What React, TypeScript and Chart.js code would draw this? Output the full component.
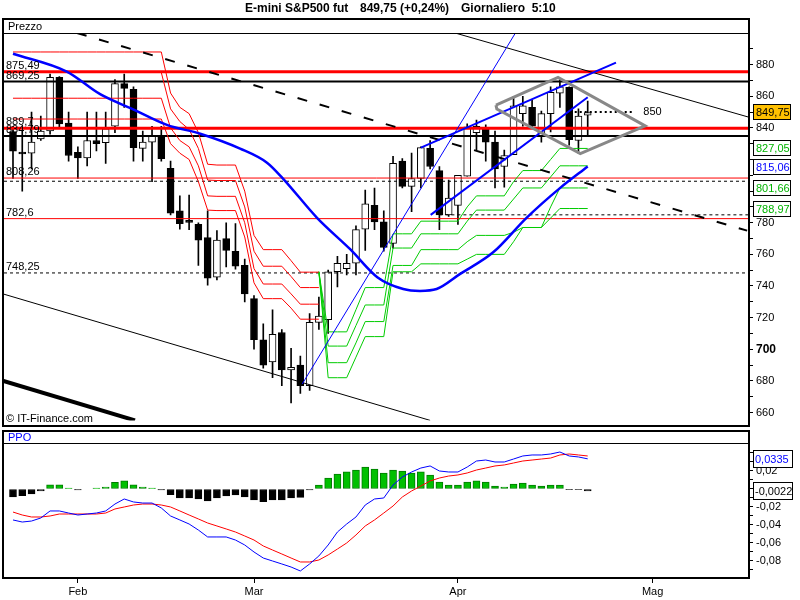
import React, { useEffect, useRef } from "react";
import { Chart, registerables } from "chart.js";

Chart.register(...registerables);

const FONT = '"Liberation Sans", Arial, sans-serif';

// ---------- candles (trading-day index 0 = 22 Jan) ----------
const opens = [837.7, 824.5, 824, 833, 838, 872, 843, 824.5, 821, 832, 830.6, 841, 868, 864.4, 827, 831, 835, 814.4, 787.5, 781, 779, 770.6, 745.6, 770, 761.9, 753, 732, 706, 692, 710.6, 687, 690, 677, 717, 718.75, 749, 751, 754.4, 776, 791, 780.6, 767, 819, 803, 808, 827, 813, 785, 791, 809.4, 837, 839, 831, 815.6, 823, 849, 853, 835, 849, 862, 865.6, 832, 848];
const highs = [841, 838, 850, 847.5, 874, 872.5, 850, 828, 850, 850, 850, 870.6, 874, 866, 838, 841, 841, 819, 797, 797.5, 780, 787.5, 775, 780, 779.4, 757, 734, 716, 725, 712.5, 700.6, 695.6, 722.5, 733, 750, 758.75, 760, 778, 800.6, 802, 787.5, 822, 820.6, 824, 828, 832, 815.6, 807, 810, 842.5, 845, 842, 838, 826, 860, 860, 857.5, 850.6, 866, 870.6, 866, 852, 857];
const lows = [808, 800, 814, 832, 836, 840.5, 819, 808, 816, 825.5, 817.5, 837, 853, 819, 819, 806, 819, 785, 776, 775.6, 753, 740.6, 743.8, 752, 750.6, 730, 700, 688, 682, 677, 666, 672, 674, 712.5, 710, 739.4, 747, 747, 762.5, 775.6, 762, 764, 802, 787, 802, 814, 775.6, 784, 779, 809.4, 826, 819, 802, 802.5, 823, 841, 840, 831, 837.5, 853, 829, 824, 835];
const closes = [825.2, 823.5, 831, 838, 872, 842.5, 822.5, 821, 832, 830, 839.4, 868, 865, 827.5, 831, 835, 820.6, 786, 779.4, 780.2, 769, 745, 769, 762.5, 752.5, 735, 706, 690, 709.4, 687, 688.5, 677, 717, 721, 749, 754.4, 754.4, 775.6, 792, 780.6, 764.4, 817.5, 803, 808, 827.5, 815.6, 785, 795.6, 810, 840.6, 841, 831, 814, 822.5, 854, 854, 841, 849, 862.5, 866, 832.5, 847.5, 849.75];

// ---------- PPO panel ----------
const ppoLine = [-0.0344, -0.0367, -0.0356, -0.0322, -0.0244, -0.0244, -0.0267, -0.0289, -0.0278, -0.0267, -0.0244, -0.0167, -0.0111, -0.0144, -0.0156, -0.0156, -0.0211, -0.03, -0.0344, -0.0389, -0.0456, -0.0533, -0.0533, -0.0533, -0.0567, -0.0622, -0.07, -0.0767, -0.08, -0.0833, -0.0867, -0.0911, -0.0833, -0.0744, -0.0622, -0.0478, -0.0389, -0.0311, -0.0178, -0.0111, -0.01, 0.0044, 0.0133, 0.0189, 0.0233, 0.0256, 0.02, 0.0189, 0.0189, 0.0244, 0.0311, 0.0322, 0.03, 0.03, 0.0333, 0.0367, 0.0378, 0.0378, 0.0389, 0.0411, 0.0367, 0.0356, 0.0335];
const signalLine = [-0.0256, -0.0289, -0.0311, -0.0311, -0.03, -0.0278, -0.0278, -0.0278, -0.0278, -0.0278, -0.0267, -0.0222, -0.02, -0.0178, -0.0167, -0.0167, -0.0178, -0.02, -0.0244, -0.0289, -0.0333, -0.0378, -0.0411, -0.0444, -0.0478, -0.0522, -0.0567, -0.0633, -0.0678, -0.0722, -0.0767, -0.0811, -0.0811, -0.0789, -0.0733, -0.0667, -0.06, -0.0511, -0.0411, -0.0344, -0.0267, -0.0189, -0.0089, -0.0022, 0.0033, 0.0089, 0.0122, 0.0144, 0.0156, 0.0178, 0.0211, 0.0233, 0.0256, 0.0267, 0.0289, 0.0311, 0.0322, 0.0333, 0.0344, 0.0378, 0.0389, 0.0378, 0.0367];
const histogram = [-0.0087, -0.0074, -0.0056, -0.002, 0.0045, 0.0045, 0.001, -0.001, 0, 0.001, 0.002, 0.0074, 0.009, 0.0045, 0.0022, 0.001, -0.001, -0.0063, -0.01, -0.01, -0.011, -0.0133, -0.01, -0.0078, -0.0067, -0.0089, -0.0122, -0.014, -0.0122, -0.0122, -0.01, -0.0093, -0.001, 0.0044, 0.0122, 0.0167, 0.019, 0.021, 0.0244, 0.0222, 0.0178, 0.021, 0.02, 0.0178, 0.019, 0.0156, 0.0078, 0.0044, 0.0044, 0.0078, 0.009, 0.0078, 0.0033, 0.0022, 0.0056, 0.0067, 0.0044, 0.0033, 0.0044, 0.0044, -0.0008, -0.0008, -0.0022];

// ---------- red trailing stops (index 0..33) ----------
const redStop1 = [888, 888, 888, 888, 888, 888, 888, 888, 888, 888, 888, 888, 888, 888, 888, 888, 888, 862, 853, 849, 837, 817, 816.5, 816.5, 816.5, 800, 772, 763, 763, 763, 756, 748.75, 748.75, 748.75];
const redStop2 = [875, 875, 875, 875, 875, 875, 875, 875, 875, 875, 875, 875, 875, 875, 875, 875, 875, 852, 844, 839, 827, 807, 806.7, 806.7, 806.7, 790, 762, 752.5, 752.5, 752.5, 746, 739, 739, 739];
const redStop3 = [858.75, 858.75, 858.75, 858.75, 858.75, 858.75, 858.75, 858.75, 858.75, 858.75, 858.75, 858.75, 858.75, 858.75, 858.75, 858.75, 858.75, 840, 832, 828, 816, 797, 796.7, 796.7, 796.7, 780, 751, 741.25, 741.25, 741.25, 735, 728.5, 728.5, 728.5];
const redStop4 = [845.6, 845.6, 845.6, 845.6, 845.6, 845.6, 845.6, 845.6, 845.6, 845.6, 845.6, 845.6, 845.6, 845.6, 845.6, 845.6, 845.6, 830, 824, 820, 806, 788, 787.7, 787.7, 787.7, 771, 742, 732, 732, 732, 726, 719, 719, 719];

// ---------- green trailing stops (index 33..62) ----------
const GREEN_START = 33;
const greenStop1 = [749, 711, 711, 711, 725, 739, 739, 739, 773, 773, 773, 781, 781, 781, 781, 781, 790, 797, 797, 797, 797, 806, 813, 813, 813, 820, 827, 827, 827, 827];
const greenStop2 = [749, 702, 702, 702, 715, 728, 728, 728, 764, 764, 764, 773, 773, 773, 773, 773, 781, 788, 788, 788, 788, 795, 802, 802, 802, 809, 816, 816, 816, 816];
const greenStop3 = [749, 691.5, 691.5, 691.5, 704, 717.5, 717.5, 717.5, 753, 753, 753, 763, 763, 763, 763, 763, 768, 772, 772, 772, 772, 774, 777, 777, 777, 790, 802, 802, 802, 802];
const greenStop4 = [749, 682, 682, 682, 695, 708, 708, 708, 749, 749, 749, 754, 754, 754, 754, 754, 757, 760, 760, 760, 760, 768, 777, 777, 777, 783, 789, 789, 789, 789];

// ---------- regression curve ----------
const curveIdx = [0, 5.8, 9.4, 12.9, 16.6, 20.2, 24.5, 27.4, 29.1, 32.8, 36.4, 39.3, 42.1, 43.9, 45.7, 48.2, 51.8, 55.4, 59.0, 62.0];
const curveVal = [886.9, 875.6, 861.3, 851.9, 841.9, 836.3, 826.9, 818, 808.1, 783.1, 763.1, 745.6, 738.1, 736.9, 738.1, 747.5, 761.3, 783.1, 801.9, 815.6];

// ---------- trend lines [index, price] ----------
const thinBlueTrend = [[31.2, 678], [54.2, 900]];
const upperChannel = [[44.0, 827.5], [65.05, 881.25]];
const lowerChannel = [[45.06, 785], [62.0, 859.4]];
const topRightBlack = [[47.7, 900], [79.3, 846.9]];
const lowerBlack = [[-1.08, 735], [45, 655]];
const thickBlack = [[-1.08, 680], [13.16, 655]];
const dashedTrend = [[6.9, 900], [79.2, 775]];
const diamondIdx = [52.1, 58.8, 68.2, 61.2, 52.2, 52.1];
const diamondVal = [854.4, 871.9, 841.25, 823.75, 851.9, 854.4];
const target850 = [[60.6, 850], [66.8, 850]];

// ---------- horizontal levels ----------
const thickRedLevels = [875.49, 839.7];
const thickBlackLevels = [869.25, 834.79];
const thinRedLevels = [808.26, 782.6];
const dashedLevels = [806.25, 748.25];
const partialDashed = [[46, 785], [79.4, 785]];
const levelLabelValues = [875.49, 869.25, 839.7, 834.79, 808.26, 782.6, 748.25];
const levelLabelTexts = ["875,49", "869,25", "889,7", "834,79", "808,26", "782,6", "748,25"];

// ---------- boxes and ticks ----------
const priceBoxValues = [849.75, 827.05, 815.06, 801.66, 788.97];
const priceBoxTexts = ["849,75", "827,05", "815,06", "801,66", "788,97"];
const priceBoxColors = ["#000000", "#00B400", "#0000FF", "#00B400", "#00B400"];
const priceBoxFills = ["#FFC000", "#FFFFFF", "#FFFFFF", "#FFFFFF", "#FFFFFF"];
const ppoBoxValues = [0.0335, -0.0022];
const ppoBoxTexts = ["0,0335", "-0,0022"];
const ppoBoxColors = ["#0000FF", "#000000"];
const priceTickValues = [660, 670, 680, 690, 700, 710, 720, 730, 740, 750, 760, 770, 780, 790, 800, 810, 820, 830, 840, 850, 860, 870, 880, 890];
const priceLabelValues = [660, 680, 700, 720, 740, 760, 780, 840, 860, 880];
const ppoTickValues = [-0.09, -0.08, -0.07, -0.06, -0.05, -0.04, -0.03, -0.02, -0.01, 0, 0.01, 0.02, 0.03, 0.04];
const monthIndex = [7, 26, 48, 69];
const monthLabels = ["Feb", "Mar", "Apr", "Mag"];

const X_MIN = -0.97;
const X_MAX = 79.4;

const pts = (p: number[][]) => p.map((q) => ({ x: q[0], y: q[1] }));

function lineDs(data: any[], color: string, width: number, order: number, dash: number[] = [], extra: any = {}) {
  return {
    type: "line",
    data,
    borderColor: color,
    backgroundColor: color,
    borderWidth: width,
    borderDash: dash,
    pointRadius: 0,
    tension: 0,
    fill: false,
    clip: 0,
    order,
    ...extra,
  };
}

function hLine(v: number, color: string, width: number, order: number, dash: number[] = []) {
  return lineDs(pts([[X_MIN, v], [X_MAX, v]]), color, width, order, dash);
}

const pricePlugin = {
  id: "priceDecor",
  afterDraw(chart: any) {
    const { ctx } = chart;
    const ys = chart.scales.y;
    const xs = chart.scales.x;
    ctx.save();
    ctx.fillStyle = "#000";
    ctx.textAlign = "left";
    ctx.textBaseline = "middle";
    ctx.font = `bold 12px ${FONT}`;
    ctx.fillText("E-mini S&P500 fut", 245, 9);
    ctx.fillText("849,75 (+0,24%)", 360, 9);
    ctx.fillText("Giornaliero  5:10", 461, 9);

    ctx.strokeStyle = "#000";
    ctx.lineWidth = 2;
    ctx.strokeRect(3, 19, 746, 407);
    ctx.lineWidth = 1;
    ctx.beginPath();
    ctx.moveTo(3, 33.5);
    ctx.lineTo(749, 33.5);
    ctx.stroke();

    ctx.font = `11px ${FONT}`;
    ctx.fillText("Prezzo", 8, 26.5);

    ctx.textBaseline = "alphabetic";
    levelLabelValues.forEach((v, i) => {
      ctx.fillText(levelLabelTexts[i], 6, ys.getPixelForValue(v) - 3);
    });
    ctx.textBaseline = "middle";
    ctx.fillText("850", xs.getPixelForValue(68.0), ys.getPixelForValue(850));
    ctx.fillText("\u00A9 IT-Finance.com", 6, 419);

    priceBoxValues.forEach((v, i) => {
      const py = Math.round(ys.getPixelForValue(v));
      ctx.fillStyle = priceBoxFills[i];
      ctx.fillRect(753.5, py - 7.5, 37, 15);
      ctx.strokeStyle = "#000";
      ctx.lineWidth = 1;
      ctx.strokeRect(753.5, py - 7.5, 37, 15);
      ctx.fillStyle = priceBoxColors[i];
      ctx.fillText(priceBoxTexts[i], 756, py + 0.5);
    });
    ctx.restore();
  },
};

const ppoPlugin = {
  id: "ppoDecor",
  afterDraw(chart: any) {
    const { ctx } = chart;
    const ys = chart.scales.y;
    ctx.save();
    ctx.strokeStyle = "#000";
    ctx.lineWidth = 2;
    ctx.strokeRect(3, 1, 746, 147);
    ctx.lineWidth = 1;
    ctx.beginPath();
    ctx.moveTo(3, 13.5);
    ctx.lineTo(749, 13.5);
    ctx.stroke();
    ctx.font = `11px ${FONT}`;
    ctx.textBaseline = "middle";
    ctx.textAlign = "left";
    ctx.fillStyle = "#0000FF";
    ctx.fillText("PPO", 8, 7.5);
    ppoBoxValues.forEach((v, i) => {
      const py = Math.round(ys.getPixelForValue(v));
      ctx.fillStyle = "#fff";
      ctx.fillRect(753.5, py - 8.5, 39, 17);
      ctx.strokeStyle = "#000";
      ctx.strokeRect(753.5, py - 8.5, 39, 17);
      ctx.fillStyle = ppoBoxColors[i];
      ctx.fillText(ppoBoxTexts[i], 755, py + 0.5);
    });
    ctx.restore();
  },
};

function buildPriceConfig(): any {
  const idx = opens.map((_, i) => i);
  const datasets: any[] = [
    {
      type: "bar",
      data: idx.map((i) => ({ x: i, y: [lows[i], highs[i]] })),
      backgroundColor: "#000",
      borderWidth: 0,
      barThickness: 1,
      maxBarThickness: 1,
      grouped: false,
      order: 8,
    },
    {
      type: "bar",
      data: idx.map((i) => ({ x: i, y: [opens[i], closes[i]] })),
      backgroundColor: idx.map((i) => (closes[i] >= opens[i] ? "#FFFFFF" : "#000000")),
      borderColor: "#000",
      borderWidth: 1,
      borderSkipped: false,
      barThickness: 7,
      maxBarThickness: 7,
      minBarLength: 2,
      grouped: false,
      order: 7,
    },
    ...thickRedLevels.map((v) => hLine(v, "#FF0000", 3, 5)),
    ...thickBlackLevels.map((v) => hLine(v, "#000000", 2, 5)),
    ...thinRedLevels.map((v) => hLine(v, "#FF0000", 1, 5)),
    ...dashedLevels.map((v) => hLine(v, "#000000", 1, 5, [3, 3])),
    lineDs(pts(partialDashed), "#000000", 1, 5, [3, 3]),
    ...[redStop1, redStop2, redStop3, redStop4].map((arr) =>
      lineDs(arr.map((v, i) => ({ x: i, y: v })), "#FF0000", 1, 4)
    ),
    ...[greenStop1, greenStop2, greenStop3, greenStop4].map((arr) =>
      lineDs(arr.map((v, j) => ({ x: GREEN_START + j, y: v })), "#00CC00", 1, 4)
    ),
    lineDs(pts(topRightBlack), "#000000", 1, 3),
    lineDs(pts(lowerBlack), "#000000", 1, 3),
    lineDs(pts(thickBlack), "#000000", 4, 3),
    lineDs(pts(dashedTrend), "#000000", 2, 3, [10, 13]),
    lineDs(pts(thinBlueTrend), "#0000FF", 1, 2),
    lineDs(pts(upperChannel), "#0000FF", 2, 2),
    lineDs(pts(lowerChannel), "#0000FF", 2, 2),
    lineDs(curveIdx.map((x, i) => ({ x, y: curveVal[i] })), "#0000FF", 2.5, 1, [], {
      cubicInterpolationMode: "monotone",
    }),
    lineDs(diamondIdx.map((x, i) => ({ x, y: diamondVal[i] })), "#888888", 3, 0),
    lineDs(pts(target850), "#000000", 2, 0, [2, 3]),
  ];
  return {
    type: "bar",
    data: { datasets },
    options: {
      responsive: false,
      animation: false,
      events: [],
      layout: { padding: { left: 4, top: 33, right: 0, bottom: 5 } },
      plugins: { legend: { display: false }, tooltip: { enabled: false }, title: { display: false } },
      scales: {
        x: { type: "linear", min: X_MIN, max: X_MAX, offset: false, grid: { offset: false }, display: false },
        y: {
          type: "linear",
          position: "right",
          min: 655,
          max: 900,
          afterFit: (s: any) => {
            s.width = 51;
          },
          afterBuildTicks: (s: any) => {
            s.ticks = priceTickValues.map((v) => ({ value: v }));
          },
          grid: { drawOnChartArea: false, color: "#000", tickLength: 4 },
          border: { display: false },
          ticks: {
            autoSkip: false,
            color: "#000",
            padding: 3,
            font: (c: any) => ({
              family: FONT,
              size: c.tick && c.tick.value === 700 ? 12 : 11,
              weight: c.tick && c.tick.value === 700 ? "bold" : "normal",
            }),
            callback: (v: any) => (priceLabelValues.indexOf(Math.round(v)) >= 0 ? String(Math.round(v)) : ""),
          },
        },
      },
    },
    plugins: [pricePlugin],
  };
}

function buildPpoConfig(): any {
  const idx = histogram.map((_, i) => i);
  const datasets: any[] = [
    {
      type: "bar",
      data: idx.map((i) => ({ x: i, y: histogram[i] })),
      backgroundColor: histogram.map((v) => (v >= 0 ? "#00C000" : "#000000")),
      borderColor: histogram.map((v) => (v >= 0 ? "#007A00" : "#000000")),
      borderWidth: 1,
      borderSkipped: false,
      barThickness: 7,
      maxBarThickness: 7,
      order: 3,
    },
    lineDs(signalLine.map((v, i) => ({ x: i, y: v })), "#FF0000", 1, 2),
    lineDs(ppoLine.map((v, i) => ({ x: i, y: v })), "#0000FF", 1, 1),
  ];
  return {
    type: "bar",
    data: { datasets },
    options: {
      responsive: false,
      animation: false,
      events: [],
      layout: { padding: { left: 4, top: 14, right: 0, bottom: 0 } },
      plugins: { legend: { display: false }, tooltip: { enabled: false }, title: { display: false } },
      scales: {
        x: {
          type: "linear",
          position: "bottom",
          min: X_MIN,
          max: X_MAX,
          offset: false,
          afterFit: (s: any) => {
            s.height = 22;
          },
          afterBuildTicks: (s: any) => {
            s.ticks = monthIndex.map((v) => ({ value: v }));
          },
          grid: { drawOnChartArea: false, color: "#000", tickLength: 5, offset: false },
          border: { display: false },
          ticks: {
            autoSkip: false,
            maxRotation: 0,
            color: "#000",
            padding: 2,
            font: { family: FONT, size: 11 },
            callback: (v: any) => {
              const k = monthIndex.indexOf(Math.round(v));
              return k >= 0 ? monthLabels[k] : "";
            },
          },
        },
        y: {
          type: "linear",
          position: "right",
          min: -0.0989,
          max: 0.05,
          afterFit: (s: any) => {
            s.width = 51;
          },
          afterBuildTicks: (s: any) => {
            s.ticks = ppoTickValues.map((v) => ({ value: v }));
          },
          grid: { drawOnChartArea: false, color: "#000", tickLength: 4 },
          border: { display: false },
          ticks: {
            autoSkip: false,
            color: "#000",
            padding: 3,
            font: { family: FONT, size: 11 },
            callback: (v: any) => {
              const h = Math.round(v * 100);
              if (h === 0 || h % 2 !== 0 || h === 4) return "";
              return (h / 100).toFixed(2).replace(".", ",");
            },
          },
        },
      },
    },
    plugins: [ppoPlugin],
  };
}

export default function App() {
  const priceRef = useRef<HTMLCanvasElement>(null);
  const ppoRef = useRef<HTMLCanvasElement>(null);

  useEffect(() => {
    const c1 = new Chart(priceRef.current as HTMLCanvasElement, buildPriceConfig());
    const c2 = new Chart(ppoRef.current as HTMLCanvasElement, buildPpoConfig());
    return () => {
      c1.destroy();
      c2.destroy();
    };
  }, []);

  return (
    <div style={{ position: "absolute", left: 0, top: 0, width: 800, height: 600, background: "#fff" }}>
      <canvas
        ref={priceRef}
        width={800}
        height={430}
        style={{ position: "absolute", left: 0, top: 0, width: 800, height: 430 }}
      />
      <canvas
        ref={ppoRef}
        width={800}
        height={170}
        style={{ position: "absolute", left: 0, top: 430, width: 800, height: 170 }}
      />
    </div>
  );
}
